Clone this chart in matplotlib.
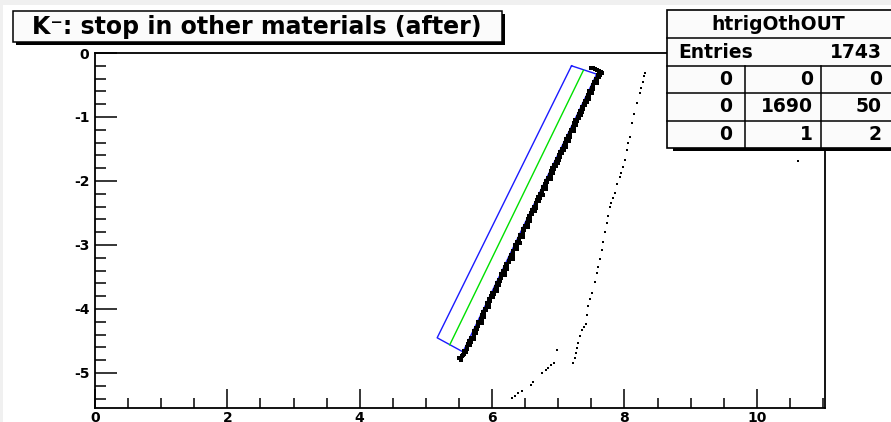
import matplotlib
matplotlib.use("Agg")
import matplotlib.pyplot as plt
from matplotlib.patches import Rectangle
from matplotlib.ticker import MultipleLocator, FixedLocator

plt.rcParams['axes.unicode_minus'] = False
plt.rcParams['font.family'] = ['DejaVu Sans']

titulo = "K⁻: stop in other materials (after)"
nombre_hist = "htrigOthOUT"
entradas = 1743
tabla = [[0, 0, 0],
         [0, 1690, 50],
         [0, 1, 2]]

# banda principal de paradas (dos filas de puntos a lo largo del corte)
banda_y1 = [-4.70, -4.65, -4.60, -4.55, -4.50, -4.45, -4.40, -4.35, -4.30, -4.25,
            -4.20, -4.15, -4.10, -4.05, -4.00, -3.95, -3.90, -3.85, -3.80, -3.75,
            -3.70, -3.65, -3.60, -3.55, -3.50, -3.45, -3.40, -3.35, -3.30, -3.25,
            -3.20, -3.15, -3.10, -3.05, -3.00, -2.95, -2.90, -2.85, -2.80, -2.75,
            -2.70, -2.65, -2.60, -2.55, -2.50, -2.45, -2.40, -2.35, -2.30, -2.25,
            -2.20, -2.15, -2.10, -2.05, -2.00, -1.95, -1.90, -1.85, -1.80, -1.75,
            -1.70, -1.65, -1.60, -1.55, -1.50, -1.45, -1.40, -1.35, -1.30, -1.25,
            -1.20, -1.15, -1.10, -1.05, -1.00, -0.95, -0.90, -0.85, -0.80, -0.75,
            -0.70, -0.65, -0.60, -0.55, -0.50, -0.45, -0.40, -0.35, -0.30]
banda_x1 = [5.57, 5.58, 5.62, 5.64, 5.65, 5.68, 5.72, 5.72, 5.75, 5.78,
            5.79, 5.83, 5.85, 5.86, 5.89, 5.93, 5.93, 5.96, 5.99, 6.00,
            6.04, 6.06, 6.07, 6.10, 6.14, 6.14, 6.17, 6.20, 6.21, 6.25,
            6.27, 6.28, 6.31, 6.35, 6.35, 6.38, 6.40, 6.42, 6.46, 6.47,
            6.49, 6.52, 6.55, 6.56, 6.59, 6.61, 6.63, 6.67, 6.68, 6.70,
            6.73, 6.76, 6.77, 6.80, 6.82, 6.84, 6.88, 6.89, 6.91, 6.94,
            6.97, 6.98, 7.01, 7.03, 7.05, 7.09, 7.10, 7.12, 7.15, 7.18,
            7.19, 7.22, 7.24, 7.26, 7.30, 7.31, 7.33, 7.36, 7.39, 7.40,
            7.43, 7.45, 7.47, 7.51, 7.52, 7.54, 7.57, 7.60, 7.62]

banda_y2 = [-4.67, -4.62, -4.57, -4.52, -4.47, -4.42, -4.37, -4.32, -4.27, -4.22,
            -4.17, -4.12, -4.07, -4.02, -3.97, -3.92, -3.87, -3.82, -3.77, -3.72,
            -3.67, -3.62, -3.57, -3.52, -3.47, -3.42, -3.37, -3.32, -3.27, -3.22,
            -3.17, -3.12, -3.07, -3.02, -2.97, -2.92, -2.87, -2.82, -2.77, -2.72,
            -2.67, -2.62, -2.57, -2.52, -2.47, -2.42, -2.37, -2.32, -2.27, -2.22,
            -2.17, -2.12, -2.07, -2.02, -1.97, -1.92, -1.87, -1.82, -1.77, -1.72,
            -1.67, -1.62, -1.57, -1.52, -1.47, -1.42, -1.37, -1.32, -1.27, -1.22,
            -1.17, -1.12, -1.07, -1.02, -0.97, -0.92, -0.87, -0.82, -0.77, -0.72,
            -0.67, -0.62, -0.57, -0.52, -0.47, -0.42, -0.37, -0.32]
banda_x2 = [5.61, 5.62, 5.67, 5.68, 5.72, 5.72, 5.76, 5.77, 5.79, 5.84,
            5.84, 5.88, 5.88, 5.91, 5.96, 5.96, 5.97, 6.02, 6.03, 6.07,
            6.07, 6.11, 6.12, 6.14, 6.19, 6.19, 6.23, 6.23, 6.26, 6.31,
            6.31, 6.32, 6.37, 6.38, 6.42, 6.41, 6.46, 6.47, 6.48, 6.54,
            6.54, 6.57, 6.58, 6.61, 6.65, 6.66, 6.67, 6.71, 6.73, 6.77,
            6.76, 6.81, 6.82, 6.83, 6.89, 6.89, 6.92, 6.93, 6.96, 7.00,
            7.01, 7.02, 7.06, 7.08, 7.12, 7.11, 7.16, 7.17, 7.18, 7.24,
            7.24, 7.27, 7.28, 7.31, 7.35, 7.36, 7.37, 7.41, 7.43, 7.47,
            7.46, 7.51, 7.52, 7.53, 7.59, 7.59, 7.62, 7.63]

# extremos de la banda
extremos_x = [7.50, 7.52, 7.55, 7.58, 7.61, 7.64, 7.66, 7.63, 5.56, 5.54, 5.50, 5.53]
extremos_y = [-0.23, -0.24, -0.25, -0.26, -0.28, -0.30, -0.32, -0.34, -4.72, -4.74, -4.76, -4.80]

# traza dispersa a la derecha
traza_x = [8.31, 8.30, 8.28, 8.25, 8.23, 8.19, 8.15, 8.12, 8.08, 8.06,
           8.04, 8.01, 7.98, 7.95, 7.93, 7.89, 7.85, 7.83, 7.80, 7.78,
           7.75, 7.73, 7.70, 7.68, 7.66, 7.63, 7.60, 7.58, 7.55, 7.51,
           7.48, 7.45, 7.44, 7.42, 7.39, 7.36, 7.33, 7.30, 7.28, 7.27,
           7.25, 7.22]
traza_y = [-0.31, -0.36, -0.45, -0.55, -0.63, -0.78, -0.95, -1.10, -1.31, -1.40,
           -1.52, -1.67, -1.78, -1.88, -1.94, -2.05, -2.19, -2.27, -2.35, -2.41,
           -2.55, -2.66, -2.80, -2.95, -3.08, -3.22, -3.35, -3.44, -3.58, -3.75,
           -3.85, -3.95, -4.10, -4.23, -4.28, -4.33, -4.42, -4.53, -4.61, -4.69,
           -4.77, -4.84]

# tramo inferior y punto aislado
tramo_x = [6.98, 6.93, 6.89, 6.84, 6.81, 6.75, 6.62, 6.59, 6.45, 6.39, 6.34, 6.30, 10.62]
tramo_y = [-4.64, -4.84, -4.88, -4.92, -4.95, -5.00, -5.14, -5.19, -5.28, -5.31, -5.36, -5.39, -1.69]

# corte rectangular y eje central
caja_x = [7.20, 7.58, 5.56, 5.17, 7.20]
caja_y = [-0.20, -0.33, -4.67, -4.45, -0.20]
eje_x = [5.36, 7.38]
eje_y = [-4.56, -0.27]

W, H = 891, 422
fig = plt.figure(figsize=(W / 100, H / 100), dpi=100)
fig.patch.set_facecolor('white')

x0, x1, y0, y1 = 95, 825, 53, 408
ax = fig.add_axes([x0 / W, 1 - y1 / H, (x1 - x0) / W, (y1 - y0) / H])
ax.set_xlim(0, 11.03)
ax.set_ylim(-5.547, 0)

ax.plot(caja_x, caja_y, color='#1a1aff', lw=1.0, zorder=2)
ax.plot(eje_x, eje_y, color='#00e000', lw=1.0, zorder=2)
ax.plot(banda_x1, banda_y1, 's', color='black', ms=2.6, mew=0, zorder=3)
ax.plot(banda_x2, banda_y2, 's', color='black', ms=2.6, mew=0, zorder=3)
ax.plot(extremos_x, extremos_y, 's', color='black', ms=2.6, mew=0, zorder=3)
ax.plot(traza_x, traza_y, 's', color='black', ms=1.5, mew=0, zorder=3)
ax.plot(tramo_x, tramo_y, 's', color='black', ms=1.5, mew=0, zorder=3)

for s in ax.spines.values():
    s.set_linewidth(1.3)
ax.xaxis.set_major_locator(FixedLocator([0, 2, 4, 6, 8, 10]))
ax.xaxis.set_minor_locator(MultipleLocator(0.5))
ax.yaxis.set_major_locator(FixedLocator([-5, -4, -3, -2, -1, 0]))
ax.yaxis.set_minor_locator(MultipleLocator(0.2))
ax.tick_params(axis='x', which='major', direction='in', length=14, width=1.1, pad=2)
ax.tick_params(axis='x', which='minor', direction='in', length=7.5, width=1.1)
ax.tick_params(axis='y', which='major', direction='in', length=15.5, width=1.1, pad=4)
ax.tick_params(axis='y', which='minor', direction='in', length=8, width=1.1)
for lab in ax.get_xticklabels() + ax.get_yticklabels():
    lab.set_fontweight('bold')
    lab.set_fontsize(10)

# capa superior para cuadro de titulo y estadisticas (coordenadas en pixeles)
ov = fig.add_axes([0, 0, 1, 1], zorder=5)
ov.set_xlim(0, W)
ov.set_ylim(H, 0)
ov.axis('off')

# borde gris del canvas
ov.add_patch(Rectangle((0, 0), W, 5, facecolor='#f0f0f0', edgecolor='none'))
ov.add_patch(Rectangle((0, 0), 3, H, facecolor='#f0f0f0', edgecolor='none'))

# cuadro del titulo con sombra
ov.add_patch(Rectangle((16, 14), 489, 31, facecolor='black', edgecolor='none'))
ov.add_patch(Rectangle((13, 11), 489, 31, facecolor='#fbfbfb', edgecolor='black', lw=1.1))
ov.text(257, 27, titulo, ha='center', va='center', fontsize=17, fontweight='bold')

# cuadro de estadisticas
bx, by, bw, bh = 667, 10, 240, 138
ov.add_patch(Rectangle((bx + 6, by + 3), bw, bh, facecolor='black', edgecolor='none'))
ov.add_patch(Rectangle((bx, by), bw, bh, facecolor='#fbfbfb', edgecolor='black', lw=1.2))
filas = [38, 66, 93, 121]
for yy in filas:
    ov.plot([bx, bx + bw], [yy, yy], color='black', lw=1.1)
for xx in [745, 821]:
    ov.plot([xx, xx], [66, by + bh], color='black', lw=1.1)
ov.text(778, 24, nombre_hist, ha='center', va='center', fontsize=13.5, fontweight='bold')
ov.text(678, 52, "Entries", ha='left', va='center', fontsize=13.5, fontweight='bold')
ov.text(882, 52, str(entradas), ha='right', va='center', fontsize=13.5, fontweight='bold')
centros_y = [79.5, 107, 134.5]
bordes_x = [732, 813, 882]
for i, fila in enumerate(tabla):
    for j, val in enumerate(fila):
        ov.text(bordes_x[j], centros_y[i], str(val), ha='right', va='center',
                fontsize=13.5, fontweight='bold')

fig.savefig('out.png', dpi=100)
